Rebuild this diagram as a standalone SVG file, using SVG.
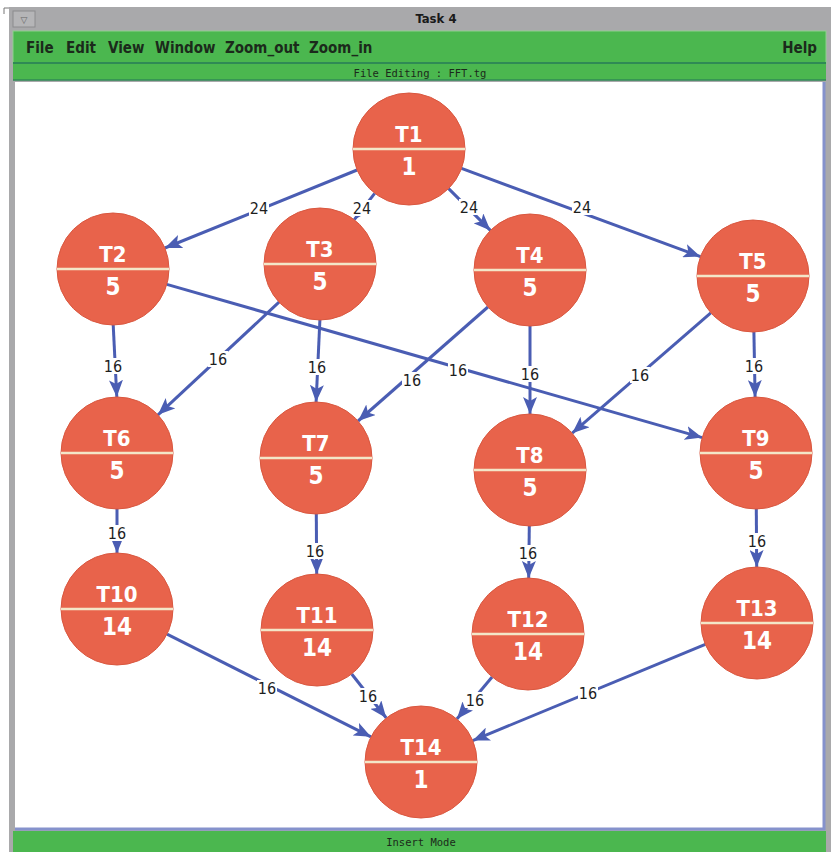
<svg xmlns="http://www.w3.org/2000/svg" width="831" height="852" viewBox="0 0 831 852">
<defs>
<style>
.node circle{fill:#e8634b;stroke:#d9573f;stroke-width:1}
.node line{stroke:#f3e6c8;stroke-width:2.5}
.nt{fill:#fff;font-family:"Liberation Sans Narrow","DejaVu Sans Condensed","Liberation Sans",Arial,sans-serif;font-stretch:condensed;font-weight:bold;font-size:22px;text-anchor:middle}
.nn{font-size:24px}
.edge{stroke:#4a5db3;stroke-width:3;fill:none;marker-end:url(#ah)}
.lb rect{fill:#fff}
.lb text{fill:#1e1e1e;font-family:"Liberation Sans Narrow","DejaVu Sans Condensed","Liberation Sans",Arial,sans-serif;font-stretch:condensed;font-size:16px;text-anchor:middle}
.menu{fill:#1b2a1b;font-family:"Liberation Sans Narrow","DejaVu Sans Condensed","Liberation Sans",Arial,sans-serif;font-stretch:condensed;font-size:15px;font-weight:bold}
.mono{fill:#1b2a1b;font-family:"DejaVu Sans Mono","Liberation Mono",monospace;font-size:10.5px;text-anchor:middle}
</style>
<marker id="ah" markerUnits="userSpaceOnUse" markerWidth="18" markerHeight="14" refX="17" refY="7" orient="auto">
<path d="M0,0 L17,7 L0,14 L4,7 z" fill="#4a5db3"/>
</marker>
</defs>
<rect width="831" height="852" fill="#fff"/>
<!-- window frame -->
<rect x="9" y="7" width="822" height="845" fill="#a9a9ab"/>
<path d="M4,14 V8 H9" stroke="#777" fill="none"/>
<rect x="13" y="11" width="22" height="16" fill="#b5b5b7" stroke="#8c8c8e"/>
<text x="24" y="23" font-family="DejaVu Sans" font-size="9" fill="#666" text-anchor="middle">▽</text>
<text x="436" y="23" font-family="Liberation Sans Narrow,DejaVu Sans Condensed,Liberation Sans,Arial,sans-serif" font-weight="bold" font-size="13" fill="#1a1a1a" text-anchor="middle">Task 4</text>
<!-- menu bar -->
<rect x="13" y="31" width="813" height="33" fill="#4bb74f" stroke="#8fd08f" stroke-width="1"/>
<line x1="13" y1="63" x2="826" y2="63" stroke="#2f8a55" stroke-width="2"/>
<text class="menu" x="26" y="53">File</text>
<text class="menu" x="66" y="53">Edit</text>
<text class="menu" x="108" y="53">View</text>
<text class="menu" x="155" y="53">Window</text>
<text class="menu" x="225" y="53">Zoom_out</text>
<text class="menu" x="309" y="53">Zoom_in</text>
<text class="menu" x="817" y="53" text-anchor="end">Help</text>
<rect x="13" y="64" width="813" height="16" fill="#4bb74f"/>
<line x1="13" y1="80" x2="826" y2="80" stroke="#2f8a55" stroke-width="1.5"/>
<text class="mono" x="420" y="77">File Editing :  FFT.tg</text>
<!-- canvas -->
<rect x="15" y="82" width="810" height="748" fill="#fff"/>
<path d="M824,82 V829 H15" stroke="#8592cc" stroke-width="3" fill="none"/>
<rect x="13" y="831" width="813" height="21" fill="#4bb74f"/>
<text class="mono" x="421" y="846">Insert Mode</text>

<g id="connectors">
<line class="edge" x1="357.1" y1="170" x2="164.9" y2="248"/>
<line class="edge" x1="374.7" y1="193.3" x2="354.3" y2="219.7"/>
<line class="edge" x1="448.6" y1="188.6" x2="490.4" y2="230.4"/>
<line class="edge" x1="461.5" y1="168.4" x2="700.5" y2="256.6"/>
<line class="edge" x1="113.2" y1="325" x2="116.8" y2="397"/>
<line class="edge" x1="166.8" y1="284.4" x2="702.2" y2="437.6"/>
<line class="edge" x1="279" y1="302.2" x2="158" y2="414.8"/>
<line class="edge" x1="319.9" y1="320" x2="316.1" y2="402"/>
<line class="edge" x1="487.9" y1="307" x2="358.1" y2="421"/>
<line class="edge" x1="530" y1="326" x2="530" y2="414"/>
<line class="edge" x1="710.8" y1="312.8" x2="572.2" y2="433.2"/>
<line class="edge" x1="753.9" y1="332" x2="755.1" y2="397"/>
<line class="edge" x1="117" y1="509" x2="117" y2="553"/>
<line class="edge" x1="316.3" y1="514" x2="316.7" y2="574"/>
<line class="edge" x1="529.3" y1="526" x2="528.7" y2="578"/>
<line class="edge" x1="756.3" y1="509" x2="756.7" y2="567"/>
<line class="edge" x1="167" y1="634.2" x2="371" y2="736.8"/>
<line class="edge" x1="351.7" y1="674" x2="386.3" y2="718"/>
<line class="edge" x1="492.1" y1="677" x2="456.9" y2="719"/>
<line class="edge" x1="705.3" y1="644.4" x2="472.7" y2="740.6"/>
<g class="lb"><rect x="249" y="200" width="20" height="16"/><text x="259" y="214">24</text></g>
<g class="lb"><rect x="352" y="200" width="20" height="16"/><text x="362" y="214">24</text></g>
<g class="lb"><rect x="459" y="199" width="20" height="16"/><text x="469" y="213">24</text></g>
<g class="lb"><rect x="572" y="199" width="20" height="16"/><text x="582" y="213">24</text></g>
<g class="lb"><rect x="103" y="358" width="20" height="16"/><text x="113" y="372">16</text></g>
<g class="lb"><rect x="448" y="362" width="20" height="16"/><text x="458" y="376">16</text></g>
<g class="lb"><rect x="208" y="351" width="20" height="16"/><text x="218" y="365">16</text></g>
<g class="lb"><rect x="307" y="359" width="20" height="16"/><text x="317" y="373">16</text></g>
<g class="lb"><rect x="402" y="372" width="20" height="16"/><text x="412" y="386">16</text></g>
<g class="lb"><rect x="520" y="366" width="20" height="16"/><text x="530" y="380">16</text></g>
<g class="lb"><rect x="630" y="367" width="20" height="16"/><text x="640" y="381">16</text></g>
<g class="lb"><rect x="744" y="358" width="20" height="16"/><text x="754" y="372">16</text></g>
<g class="lb"><rect x="107" y="525" width="20" height="16"/><text x="117" y="539">16</text></g>
<g class="lb"><rect x="305" y="543" width="20" height="16"/><text x="315" y="557">16</text></g>
<g class="lb"><rect x="518" y="545" width="20" height="16"/><text x="528" y="559">16</text></g>
<g class="lb"><rect x="747" y="533" width="20" height="16"/><text x="757" y="547">16</text></g>
<g class="lb"><rect x="257" y="680" width="20" height="16"/><text x="267" y="694">16</text></g>
<g class="lb"><rect x="358" y="688" width="20" height="16"/><text x="368" y="702">16</text></g>
<g class="lb"><rect x="465" y="692" width="20" height="16"/><text x="475" y="706">16</text></g>
<g class="lb"><rect x="578" y="685" width="20" height="16"/><text x="588" y="699">16</text></g>
</g>

<g id="T1" class="node"><circle cx="409" cy="149" r="56"/><line x1="353" y1="149" x2="465" y2="149"/><text class="nt" x="409" y="142">T1</text><text class="nt nn" x="409" y="175">1</text></g>
<g id="T2" class="node"><circle cx="113" cy="269" r="56"/><line x1="57" y1="269" x2="169" y2="269"/><text class="nt" x="113" y="262">T2</text><text class="nt nn" x="113" y="295">5</text></g>
<g id="T3" class="node"><circle cx="320" cy="264" r="56"/><line x1="264" y1="264" x2="376" y2="264"/><text class="nt" x="320" y="257">T3</text><text class="nt nn" x="320" y="290">5</text></g>
<g id="T4" class="node"><circle cx="530" cy="270" r="56"/><line x1="474" y1="270" x2="586" y2="270"/><text class="nt" x="530" y="263">T4</text><text class="nt nn" x="530" y="296">5</text></g>
<g id="T5" class="node"><circle cx="753" cy="276" r="56"/><line x1="697" y1="276" x2="809" y2="276"/><text class="nt" x="753" y="269">T5</text><text class="nt nn" x="753" y="302">5</text></g>
<g id="T6" class="node"><circle cx="117" cy="453" r="56"/><line x1="61" y1="453" x2="173" y2="453"/><text class="nt" x="117" y="446">T6</text><text class="nt nn" x="117" y="479">5</text></g>
<g id="T7" class="node"><circle cx="316" cy="458" r="56"/><line x1="260" y1="458" x2="372" y2="458"/><text class="nt" x="316" y="451">T7</text><text class="nt nn" x="316" y="484">5</text></g>
<g id="T8" class="node"><circle cx="530" cy="470" r="56"/><line x1="474" y1="470" x2="586" y2="470"/><text class="nt" x="530" y="463">T8</text><text class="nt nn" x="530" y="496">5</text></g>
<g id="T9" class="node"><circle cx="756" cy="453" r="56"/><line x1="700" y1="453" x2="812" y2="453"/><text class="nt" x="756" y="446">T9</text><text class="nt nn" x="756" y="479">5</text></g>
<g id="T10" class="node"><circle cx="117" cy="609" r="56"/><line x1="61" y1="609" x2="173" y2="609"/><text class="nt" x="117" y="602">T10</text><text class="nt nn" x="117" y="635">14</text></g>
<g id="T11" class="node"><circle cx="317" cy="630" r="56"/><line x1="261" y1="630" x2="373" y2="630"/><text class="nt" x="317" y="623">T11</text><text class="nt nn" x="317" y="656">14</text></g>
<g id="T12" class="node"><circle cx="528" cy="634" r="56"/><line x1="472" y1="634" x2="584" y2="634"/><text class="nt" x="528" y="627">T12</text><text class="nt nn" x="528" y="660">14</text></g>
<g id="T13" class="node"><circle cx="757" cy="623" r="56"/><line x1="701" y1="623" x2="813" y2="623"/><text class="nt" x="757" y="616">T13</text><text class="nt nn" x="757" y="649">14</text></g>
<g id="T14" class="node"><circle cx="421" cy="762" r="56"/><line x1="365" y1="762" x2="477" y2="762"/><text class="nt" x="421" y="755">T14</text><text class="nt nn" x="421" y="788">1</text></g>
</svg>
